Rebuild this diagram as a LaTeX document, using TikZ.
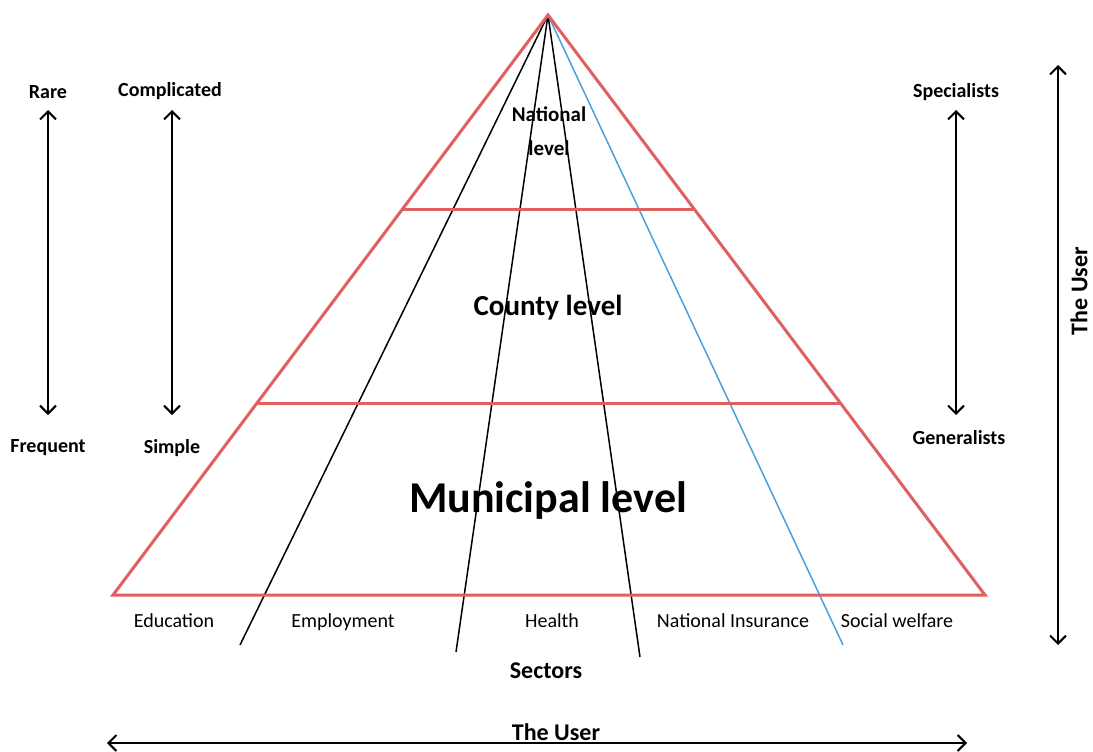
\documentclass[tikz,border=0pt]{standalone}
\usepackage{fontspec}
\setmainfont{Carlito}
\usepackage{tikz}
\usetikzlibrary{positioning,calc,arrows.meta}
\definecolor{pyrred}{RGB}{222,96,96}
\definecolor{sectblue}{RGB}{72,160,222}
\tikzset{label node/.style={font=\fontsize{20}{20}\selectfont\bfseries,inner sep=1pt},
  sector node/.style={font=\fontsize{20}{20}\selectfont,inner sep=1pt,anchor=base},
  level line/.style={draw=pyrred,line width=3pt},
  scale arrow/.style={{Straight Barb[length=8pt,width=16pt]}-{Straight Barb[length=8pt,width=16pt]},line width=2pt},}
\begin{document}
\begin{tikzpicture}[x=1pt,y=-1pt]
        \useasboundingbox (0,0) rectangle (1093,752);
        % Nodes
        \coordinate (apex) at (548,15);
        \coordinate (bl) at (113,595);
        \coordinate (br) at (985,595);
        \coordinate (nl) at ($(apex)!0.3345!(bl)$);
        \coordinate (nr) at ($(apex)!0.3345!(br)$);
        \coordinate (cl) at ($(apex)!0.669!(bl)$);
        \coordinate (cr) at ($(apex)!0.669!(br)$);
        \coordinate (s1) at (240,645);
        \coordinate (s2) at (456,652);
        \coordinate (s3) at (640,657);
        \coordinate (s4) at (843,645);
        \node[label node,font=\fontsize{21}{21}\selectfont\bfseries] (nat1) at (549,114) {National};
        \node[label node,font=\fontsize{21}{21}\selectfont\bfseries] (nat2) at (549,148) {level};
        \node[label node,font=\fontsize{29}{29}\selectfont\bfseries] (county) at (548,308) {County level};
        \node[label node,font=\fontsize{44}{44}\selectfont\bfseries] (muni) at (548,501) {Municipal level};
        \node[sector node] (edu) at (174,627) {Education};
        \node[sector node] (emp) at (343,627) {Employment};
        \node[sector node] (hea) at (552,627) {Health};
        \node[sector node] (ins) at (733,627) {National Insurance};
        \node[sector node] (soc) at (897,627) {Social welfare};
        \node[label node,font=\fontsize{24}{24}\selectfont\bfseries] (sectors) at (546,671) {Sectors};
        \node[label node,font=\fontsize{24}{24}\selectfont\bfseries] (user) at (556,732) {The User};
        \node[label node,font=\fontsize{24}{24}\selectfont\bfseries,rotate=90,inner sep=0pt] (user2) at (1079,291) {The User};
        \node[label node] (rare) at (48,92) {Rare};
        \node[label node] (freq) at (48,448) {Frequent};
        \node[label node] (comp) at (170,91) {Complicated};
        \node[label node] (simp) at (172,448) {Simple};
        \node[label node] (spec) at (956,92) {Specialists};
        \node[label node] (gen) at (959,438) {Generalists};
        \coordinate (rt) at (48,110);
        \coordinate (rb) at (48,415);
        \coordinate (ct) at (172,110);
        \coordinate (cb) at (172,415);
        \coordinate (st) at (956,110);
        \coordinate (sb) at (956,415);
        \coordinate (ul) at (107,743);
        \coordinate (ur) at (967,743);
        \coordinate (ut) at (1058,65);
        \coordinate (ub) at (1058,645);
        % Paths
        \draw[black,line width=1.5pt] (apex) -- (s1) (apex) -- (s2) (apex) -- (s3);
        \draw[sectblue,line width=1.5pt] (apex) -- (s4);
        \draw[level line,line join=miter] (apex) -- (bl) -- (br) -- cycle;
        \draw[level line] (nl) -- (nr);
        \draw[level line] (cl) -- (cr);
        \draw[scale arrow] (rt) -- (rb);
        \draw[scale arrow] (ct) -- (cb);
        \draw[scale arrow] (st) -- (sb);
        \draw[scale arrow] (ut) -- (ub);
        \draw[scale arrow] (ul) -- (ur);
    \end{tikzpicture}
\end{document}
